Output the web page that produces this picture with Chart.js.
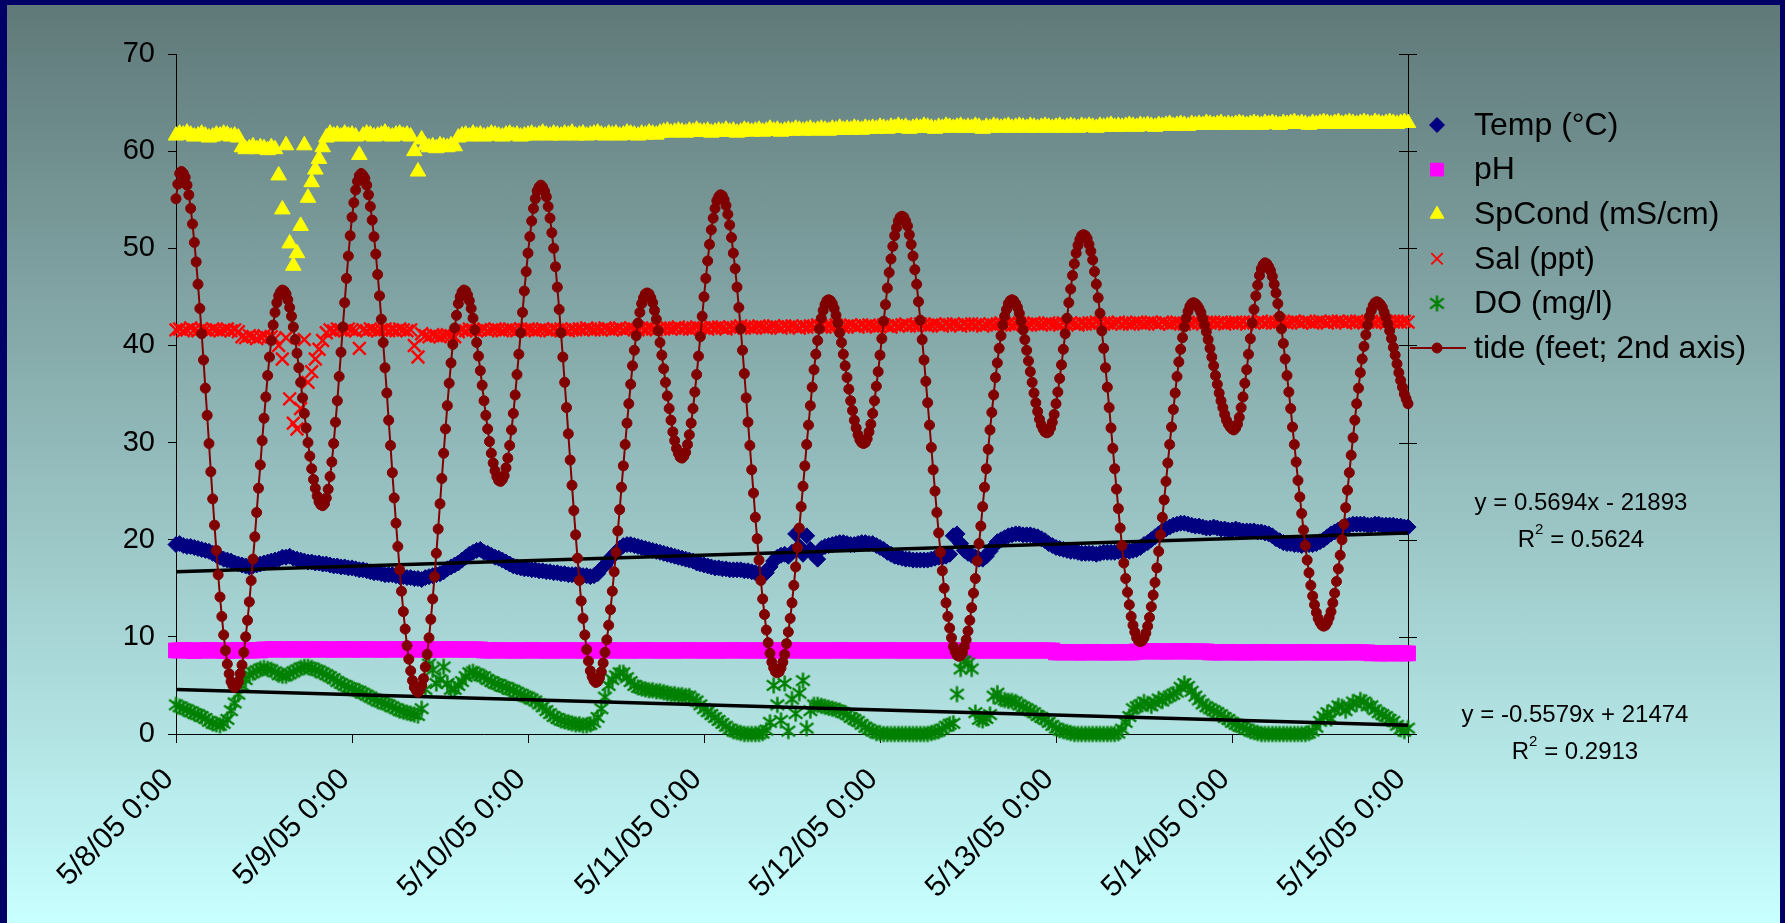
<!DOCTYPE html>
<html>
<head>
<meta charset="utf-8">
<title>Sonde readings 5/8/05 - 5/15/05</title>
<script src="https://cdn.jsdelivr.net/npm/chart.js@4.4.1/dist/chart.umd.min.js"></script>
<style>
    html, body { margin: 0; padding: 0; }
    #frame { position: relative; width: 1785px; height: 923px; overflow: hidden;
             background: linear-gradient(to bottom, #5f7878 0%, #c8ffff 100%); }
    #frame canvas { position: absolute; left: 0; top: 0; }
    .edge { position: absolute; background: #000066; }
</style>
</head>
<body>
<div id="frame">
    <canvas id="sondeChart" width="1785" height="923"></canvas>
    <div class="edge" style="left:0;top:0;width:7px;height:923px"></div>
    <div class="edge" style="left:0;top:0;width:1785px;height:5px"></div>
    <div class="edge" style="right:0;top:0;width:5px;height:923px"></div>
</div>
<script>
/* ========================================================================
   Water quality sonde + tide, one week at the station
   ======================================================================== */

// first timestamp as a spreadsheet serial day (5/8/05 0:00)
const START_DAY = 38480;

const dayLabels = ['5/8/05 0:00', '5/9/05 0:00', '5/10/05 0:00', '5/11/05 0:00',
    '5/12/05 0:00', '5/13/05 0:00', '5/14/05 0:00', '5/15/05 0:00'];

// sonde readings every 30 minutes, one row per day
const temp = [
    19.5, 19.6, 19.4, 19.3, 19.3, 19.2, 19.1, 19.0, 18.9, 18.8, 18.6, 18.4, 18.2, 18.0, 17.9, 17.8, 17.6, 17.5, 17.4, 17.3, 17.2, 17.3, 17.4, 17.5, 17.6, 17.7, 17.8, 17.9, 18.0, 18.2, 18.2, 18.3, 18.1, 18.0, 17.9, 17.8, 17.7, 17.7, 17.6, 17.6, 17.5, 17.5, 17.4, 17.3, 17.3, 17.2, 17.2, 17.1,
    17.1, 17.0, 16.9, 16.9, 16.8, 16.7, 16.6, 16.6, 16.5, 16.4, 16.4, 16.4, 16.3, 16.2, 16.2, 16.1, 16.1, 16.0, 16.0, 15.9, 16.1, 16.2, 16.3, 16.4, 16.5, 16.7, 17.0, 17.2, 17.4, 17.6, 17.9, 18.2, 18.5, 18.7, 18.9, 19.0, 18.7, 18.6, 18.4, 18.2, 18.1, 17.9, 17.7, 17.5, 17.3, 17.2, 17.1, 17.0,
    17.0, 16.9, 16.9, 16.8, 16.8, 16.7, 16.7, 16.6, 16.6, 16.5, 16.5, 16.4, 16.4, 16.4, 16.4, 16.3, 16.3, 16.2, 16.3, 16.5, 17.0, 17.4, 17.9, 18.3, 18.7, 19.1, 19.4, 19.5, 19.5, 19.4, 19.3, 19.2, 19.1, 19.0, 18.9, 18.8, 18.7, 18.6, 18.5, 18.4, 18.3, 18.2, 18.1, 18.0, 17.9, 17.8, 17.6, 17.5,
    17.4, 17.3, 17.2, 17.1, 17.1, 17.0, 17.0, 16.9, 16.9, 16.9, 16.9, 16.8, 16.8, 16.7, 16.6, 16.5, 16.4, 16.6, 17.2, 17.8, 18.2, 18.4, 18.5, 18.3, 18.7, 20.6, 19.3, 18.5, 20.4, 19.0, 18.4, 18.0, 19.1, 19.3, 19.4, 19.5, 19.6, 19.7, 19.7, 19.6, 19.5, 19.5, 19.6, 19.7, 19.7, 19.6, 19.6, 19.4,
    19.2, 19.0, 18.7, 18.5, 18.3, 18.2, 18.1, 18.0, 18.0, 17.9, 17.9, 17.9, 17.9, 17.9, 18.0, 18.1, 18.2, 18.2, 18.3, 18.5, 20.4, 20.6, 19.6, 18.9, 18.6, 18.4, 18.2, 18.0, 18.0, 18.3, 18.8, 19.3, 19.8, 20.0, 20.2, 20.4, 20.5, 20.6, 20.6, 20.5, 20.5, 20.5, 20.4, 20.3, 20.1, 19.9, 19.6, 19.4,
    19.2, 19.1, 19.0, 18.9, 18.8, 18.8, 18.7, 18.6, 18.6, 18.6, 18.6, 18.5, 18.6, 18.7, 18.7, 18.7, 18.7, 18.8, 18.8, 18.9, 18.8, 18.9, 19.0, 19.2, 19.5, 19.7, 20.0, 20.3, 20.6, 20.9, 21.1, 21.3, 21.5, 21.6, 21.7, 21.7, 21.6, 21.5, 21.4, 21.4, 21.3, 21.2, 21.2, 21.3, 21.2, 21.1, 21.1, 21.0,
    21.0, 21.1, 21.0, 20.9, 20.9, 20.9, 20.9, 20.8, 20.8, 20.7, 20.6, 20.4, 20.1, 19.9, 19.7, 19.6, 19.6, 19.5, 19.5, 19.4, 19.5, 19.5, 19.5, 19.6, 19.8, 20.0, 20.3, 20.6, 20.8, 21.0, 21.2, 21.4, 21.5, 21.6, 21.6, 21.6, 21.6, 21.5, 21.5, 21.6, 21.6, 21.5, 21.5, 21.5, 21.5, 21.4, 21.4, 21.3, 21.3
];

const ph = [
    8.6, 8.6, 8.65, 8.6, 8.6, 8.55, 8.6, 8.6, 8.6, 8.65, 8.6, 8.6, 8.6, 8.6, 8.55, 8.6, 8.6, 8.65, 8.6, 8.6, 8.6, 8.6, 8.65, 8.6,
    8.7, 8.7, 8.7, 8.75, 8.7, 8.7, 8.7, 8.7, 8.75, 8.7, 8.7, 8.7, 8.7, 8.7, 8.7, 8.75, 8.7, 8.7, 8.7, 8.7, 8.7, 8.7, 8.75, 8.7,
    8.7, 8.7, 8.7, 8.7, 8.75, 8.7, 8.7, 8.7, 8.7, 8.7, 8.7, 8.7, 8.75, 8.7, 8.7, 8.7, 8.7, 8.7, 8.75, 8.7, 8.7, 8.7, 8.7, 8.7, 8.7, 8.7, 8.7, 8.75, 8.7, 8.7, 8.7, 8.7, 8.7, 8.7, 8.7, 8.7,
    8.6, 8.6, 8.6, 8.6, 8.65, 8.6, 8.6, 8.6, 8.6, 8.6, 8.6, 8.6, 8.6, 8.65, 8.6, 8.6, 8.6, 8.6, 8.6, 8.6, 8.6, 8.6, 8.6, 8.65, 8.6, 8.6, 8.6, 8.6, 8.6, 8.6, 8.6, 8.6, 8.6, 8.6, 8.65, 8.6, 8.6, 8.6, 8.6,
    8.6, 8.6, 8.6, 8.6, 8.6, 8.65, 8.6, 8.6, 8.6, 8.6, 8.6, 8.6, 8.6, 8.6, 8.6, 8.6, 8.6, 8.65, 8.6, 8.6, 8.6, 8.6, 8.6, 8.6, 8.6, 8.6, 8.6, 8.6, 8.6, 8.65, 8.6, 8.6, 8.6, 8.6, 8.6, 8.6, 8.6, 8.6, 8.6,
    8.6, 8.6, 8.6, 8.6, 8.6, 8.6, 8.65, 8.6, 8.6, 8.6, 8.6, 8.6, 8.6, 8.6, 8.6, 8.6, 8.6, 8.6, 8.6, 8.65, 8.6, 8.6, 8.6, 8.6, 8.6, 8.6, 8.6, 8.6, 8.6, 8.6, 8.6, 8.6, 8.65, 8.6, 8.6, 8.6, 8.6, 8.6, 8.6,
    8.6, 8.6, 8.6, 8.6, 8.6, 8.6, 8.6, 8.6, 8.6, 8.6, 8.6, 8.6, 8.6, 8.6, 8.6, 8.6, 8.6, 8.6, 8.6, 8.6, 8.6, 8.6, 8.6, 8.6, 8.6, 8.6, 8.6, 8.6, 8.6, 8.6, 8.6, 8.6, 8.6, 8.6, 8.6, 8.6, 8.6, 8.6, 8.6,
    8.4, 8.4, 8.4, 8.45, 8.4, 8.4, 8.4, 8.4, 8.4, 8.4, 8.45, 8.4, 8.4, 8.4, 8.4, 8.4, 8.4, 8.4, 8.45, 8.4, 8.4, 8.4,
    8.5, 8.5, 8.5, 8.5, 8.55, 8.5, 8.5, 8.5, 8.5, 8.5, 8.5, 8.5, 8.55, 8.5, 8.5, 8.5, 8.5, 8.5, 8.5, 8.5,
    8.4, 8.4, 8.4, 8.4, 8.4, 8.45, 8.4, 8.4, 8.4, 8.4, 8.4, 8.4, 8.4, 8.4, 8.45, 8.4, 8.4, 8.4, 8.4, 8.4, 8.4, 8.4,
    8.4, 8.4, 8.4, 8.4, 8.45, 8.4, 8.4, 8.4, 8.4, 8.4, 8.4, 8.4, 8.4, 8.4, 8.4, 8.4, 8.4, 8.45, 8.4, 8.4, 8.4, 8.4,
    8.3, 8.35, 8.3, 8.3, 8.3, 8.3, 8.35, 8.3, 8.3, 8.3, 8.3
];

const spCond = [
    61.6, 61.8, 61.7, 61.9, 61.7, 61.5, 61.6, 61.8, 61.6, 61.4, 61.5, 61.7, 61.6, 61.8, 61.7, 61.5, 61.6, 61.4, 60.4, 60.2, 60.3, 60.5, 60.2, 60.4, 60.3, 60.1, 60.4, 60.2, 57.5, 54.0, 60.6, 50.5, 48.2, 49.5, 52.3, 60.6, 55.2, 56.8, 58.1, 59.2, 60.4, 61.4, 61.8, 61.6, 61.7, 61.5, 61.8, 61.6,
    61.7, 61.5, 59.6, 61.6, 61.8, 61.7, 61.5, 61.6, 61.7, 61.9, 61.6, 61.5, 61.7, 61.8, 61.6, 61.7, 61.5, 60.0, 57.9, 61.2, 60.6, 60.4, 60.5, 60.3, 60.6, 60.5, 60.4, 60.6, 60.5, 61.4, 61.6, 61.7, 61.5, 61.8, 61.6, 61.7, 61.5, 61.6, 61.8, 61.7, 61.6, 61.5, 61.7, 61.8, 61.6, 61.7, 61.5, 61.6,
    61.7, 61.8, 61.6, 61.7, 61.9, 61.7, 61.6, 61.8, 61.7, 61.6, 61.8, 61.7, 61.9, 61.6, 61.7, 61.8, 61.6, 61.7, 61.8, 61.9, 61.7, 61.6, 61.8, 61.7, 61.8, 61.6, 61.7, 61.9, 61.8, 61.7, 61.6, 61.8, 61.7, 61.9, 61.8, 61.7, 61.9, 62.0, 62.1, 61.9, 62.0, 62.1, 62.0, 61.9, 62.1, 62.0, 62.2, 62.0,
    62.0, 62.1, 61.9, 62.0, 62.1, 62.0, 62.2, 62.0, 62.1, 61.9, 62.0, 62.2, 62.1, 62.0, 62.1, 62.2, 62.0, 62.1, 62.3, 62.1, 62.2, 62.0, 62.1, 62.2, 62.1, 62.3, 62.2, 62.1, 62.2, 62.3, 62.1, 62.2, 62.3, 62.2, 62.1, 62.3, 62.2, 62.4, 62.2, 62.3, 62.2, 62.4, 62.3, 62.2, 62.4, 62.3, 62.4, 62.3,
    62.5, 62.4, 62.3, 62.5, 62.4, 62.6, 62.4, 62.5, 62.3, 62.4, 62.5, 62.4, 62.6, 62.5, 62.4, 62.3, 62.5, 62.4, 62.6, 62.5, 62.4, 62.5, 62.6, 62.4, 62.5, 62.4, 62.6, 62.5, 62.3, 62.5, 62.4, 62.6, 62.5, 62.4, 62.5, 62.6, 62.4, 62.5, 62.6, 62.5, 62.4, 62.6, 62.5, 62.4, 62.5, 62.6, 62.5, 62.4,
    62.5, 62.6, 62.4, 62.5, 62.6, 62.5, 62.4, 62.6, 62.5, 62.6, 62.5, 62.4, 62.6, 62.5, 62.6, 62.7, 62.5, 62.6, 62.5, 62.6, 62.7, 62.6, 62.5, 62.7, 62.6, 62.7, 62.6, 62.5, 62.7, 62.6, 62.7, 62.8, 62.6, 62.7, 62.8, 62.7, 62.6, 62.8, 62.7, 62.8, 62.7, 62.9, 62.8, 62.7, 62.8, 62.9, 62.7, 62.8,
    62.7, 62.8, 62.9, 62.8, 62.7, 62.8, 62.9, 62.8, 62.7, 62.9, 62.8, 62.9, 62.8, 62.7, 62.9, 62.8, 62.9, 63.0, 62.8, 62.9, 62.8, 62.7, 62.9, 62.8, 62.9, 63.0, 62.9, 62.8, 62.9, 63.0, 62.8, 62.9, 63.0, 62.9, 62.8, 62.9, 63.0, 62.9, 62.8, 63.0, 62.9, 62.8, 62.9, 63.0, 62.9, 62.8, 62.9, 63.0, 62.9
];

const sal = [
    41.6, 41.7, 41.5, 41.6, 41.8, 41.6, 41.5, 41.7, 41.6, 41.5, 41.7, 41.6, 41.5, 41.6, 41.7, 41.5, 41.6, 41.4, 40.9, 40.8, 41.0, 40.9, 40.7, 40.9, 41.0, 40.8, 40.9, 40.7, 40.0, 38.6, 40.8, 34.5, 32.0, 31.4, 33.5, 40.6, 36.2, 37.3, 38.6, 39.6, 40.5, 41.3, 41.6, 41.5, 41.7, 41.6, 41.5, 41.7,
    41.6, 41.5, 39.7, 41.6, 41.5, 41.7, 41.6, 41.5, 41.6, 41.7, 41.5, 41.6, 41.5, 41.7, 41.6, 41.5, 41.6, 40.0, 38.8, 41.2, 41.0, 40.9, 41.1, 41.0, 40.9, 41.0, 41.1, 41.0, 40.9, 41.4, 41.6, 41.5, 41.7, 41.6, 41.5, 41.6, 41.7, 41.5, 41.6, 41.7, 41.6, 41.5, 41.6, 41.7, 41.6, 41.5, 41.7, 41.6,
    41.7, 41.6, 41.5, 41.6, 41.7, 41.6, 41.5, 41.7, 41.6, 41.7, 41.6, 41.5, 41.7, 41.6, 41.7, 41.6, 41.8, 41.7, 41.6, 41.7, 41.6, 41.8, 41.7, 41.6, 41.7, 41.8, 41.6, 41.7, 41.8, 41.7, 41.6, 41.8, 41.7, 41.8, 41.7, 41.6, 41.8, 41.7, 41.8, 41.7, 41.8, 41.9, 41.7, 41.8, 41.7, 41.8, 41.9, 41.8,
    41.8, 41.7, 41.9, 41.8, 41.9, 41.8, 41.7, 41.9, 41.8, 41.9, 42.0, 41.8, 41.9, 41.8, 41.9, 42.0, 41.9, 41.8, 41.9, 42.0, 41.9, 41.8, 42.0, 41.9, 42.0, 41.9, 41.8, 42.0, 41.9, 42.0, 41.9, 42.1, 42.0, 41.9, 42.0, 41.9, 42.1, 42.0, 41.9, 42.0, 42.1, 42.0, 41.9, 42.1, 42.0, 42.1, 42.0, 41.9,
    42.0, 42.1, 42.0, 41.9, 42.1, 42.0, 42.1, 42.2, 42.0, 42.1, 42.0, 42.2, 42.1, 42.0, 42.1, 42.2, 42.1, 42.0, 42.2, 42.1, 42.2, 42.1, 42.0, 42.2, 42.1, 42.2, 42.1, 42.2, 42.0, 42.1, 42.2, 42.1, 42.2, 42.3, 42.1, 42.2, 42.1, 42.2, 42.3, 42.2, 42.1, 42.2, 42.3, 42.2, 42.1, 42.2, 42.3, 42.2,
    42.2, 42.1, 42.3, 42.2, 42.3, 42.2, 42.1, 42.3, 42.2, 42.3, 42.2, 42.4, 42.3, 42.2, 42.3, 42.2, 42.3, 42.4, 42.2, 42.3, 42.2, 42.3, 42.4, 42.3, 42.2, 42.3, 42.4, 42.3, 42.2, 42.4, 42.3, 42.2, 42.3, 42.4, 42.3, 42.2, 42.4, 42.3, 42.4, 42.3, 42.2, 42.4, 42.3, 42.4, 42.3, 42.4, 42.2, 42.3,
    42.3, 42.4, 42.3, 42.4, 42.2, 42.4, 42.3, 42.4, 42.5, 42.3, 42.4, 42.3, 42.4, 42.5, 42.4, 42.3, 42.4, 42.5, 42.4, 42.3, 42.5, 42.4, 42.3, 42.4, 42.5, 42.4, 42.3, 42.5, 42.4, 42.5, 42.4, 42.3, 42.5, 42.4, 42.5, 42.4, 42.3, 42.4, 42.5, 42.4, 42.5, 42.4, 42.3, 42.5, 42.4, 42.5, 42.4, 42.5, 42.4
];

const dissolvedO2 = [
    3.0, 2.8, 2.6, 2.5, 2.3, 2.1, 2.0, 1.8, 1.6, 1.3, 1.1, 1.0, 0.9, 1.1, 1.5, 2.4, 3.2, 4.1, 5.0, 5.6, 6.1, 6.3, 6.5, 6.7, 6.8, 6.7, 6.6, 6.4, 6.1, 6.0, 6.0, 6.2, 6.4, 6.6, 6.8, 6.9, 6.9, 6.8, 6.6, 6.5, 6.3, 6.1, 5.9, 5.7, 5.4, 5.2, 5.0, 4.8,
    4.7, 4.5, 4.4, 4.2, 4.0, 3.8, 3.6, 3.4, 3.3, 3.1, 3.0, 2.8, 2.6, 2.4, 2.3, 2.2, 2.1, 2.0, 1.9, 2.6, 4.6, 7.2, 6.6, 5.2, 5.6, 6.9, 5.2, 4.6, 4.6, 5.0, 5.4, 5.9, 6.3, 6.4, 6.2, 6.0, 5.9, 5.6, 5.4, 5.2, 5.1, 4.9, 4.8, 4.6, 4.5, 4.3, 4.1, 3.9,
    3.8, 3.6, 3.4, 3.1, 2.8, 2.4, 2.1, 1.8, 1.6, 1.4, 1.3, 1.2, 1.1, 1.0, 1.0, 0.9, 0.9, 1.0, 1.2, 1.7, 2.6, 3.8, 5.0, 5.6, 6.0, 6.3, 6.3, 5.8, 5.4, 5.0, 4.8, 4.7, 4.6, 4.5, 4.5, 4.4, 4.4, 4.3, 4.2, 4.1, 4.1, 4.0, 4.0, 3.9, 3.9, 3.6, 3.4, 3.0,
    2.6, 2.3, 2.0, 1.7, 1.4, 1.1, 0.8, 0.5, 0.3, 0.2, 0.1, 0.0, 0.0, 0.0, 0.0, 0.0, 0.1, 0.4, 1.2, 5.0, 3.0, 1.4, 5.2, 0.3, 3.6, 2.1, 4.2, 5.5, 0.6, 2.4, 3.0, 3.0, 2.9, 2.8, 2.7, 2.6, 2.5, 2.4, 2.2, 2.0, 1.7, 1.5, 1.3, 1.0, 0.7, 0.5, 0.3, 0.1,
    0.1, 0.0, 0.0, 0.0, 0.0, 0.0, 0.0, 0.0, 0.0, 0.0, 0.0, 0.0, 0.0, 0.0, 0.1, 0.2, 0.3, 0.5, 0.8, 1.0, 1.1, 4.1, 6.7, 7.5, 7.3, 6.7, 2.2, 1.5, 1.4, 1.6, 2.0, 3.9, 4.2, 3.6, 3.5, 3.4, 3.4, 3.3, 3.0, 2.8, 2.6, 2.4, 2.2, 1.9, 1.7, 1.5, 1.2, 0.9,
    0.6, 0.4, 0.3, 0.2, 0.1, 0.0, 0.0, 0.0, 0.0, 0.0, 0.0, 0.0, 0.0, 0.0, 0.0, 0.0, 0.0, 0.1, 0.5, 1.2, 1.8, 2.6, 2.8, 3.0, 3.3, 3.1, 2.9, 3.2, 3.6, 3.4, 3.7, 3.9, 4.1, 4.3, 4.8, 5.2, 4.9, 4.4, 3.9, 3.5, 3.1, 2.8, 2.6, 2.4, 2.2, 2.0, 1.7, 1.5,
    1.2, 1.0, 0.8, 0.7, 0.5, 0.3, 0.2, 0.1, 0.0, 0.0, 0.0, 0.0, 0.0, 0.0, 0.0, 0.0, 0.0, 0.0, 0.0, 0.0, 0.0, 0.1, 0.3, 0.7, 1.3, 1.8, 2.2, 1.6, 2.5, 2.9, 2.8, 2.4, 2.8, 3.3, 3.1, 3.5, 3.3, 2.9, 2.9, 2.5, 2.2, 2.0, 1.8, 1.5, 1.3, 0.9, 0.5, 0.3, 0.6
];

// tide gauge, every 15 minutes, feet
const tide = [
    5.51, 5.66, 5.77, 5.79,
    5.77, 5.73, 5.65, 5.55, 5.41, 5.25, 5.06, 4.86, 4.63, 4.38, 4.12, 3.85, 3.56, 3.28, 2.99, 2.70, 2.42, 2.15, 1.89, 1.64, 1.41, 1.21, 1.02, 0.86, 0.72, 0.62, 0.54, 0.50, 0.48,
    0.50, 0.54, 0.62, 0.71, 0.84, 1.00, 1.17, 1.36, 1.58, 1.80, 2.03, 2.28, 2.53, 2.77, 3.02, 3.25, 3.47, 3.69, 3.88, 4.05, 4.21, 4.34, 4.44, 4.51, 4.55, 4.57,
    4.56, 4.53, 4.47, 4.39, 4.30, 4.19, 4.06, 3.92, 3.77, 3.62, 3.46, 3.30, 3.15, 3.00, 2.86, 2.73, 2.62, 2.53, 2.45, 2.39, 2.36, 2.35,
    2.37, 2.43, 2.52, 2.65, 2.80, 2.99, 3.21, 3.43, 3.68, 3.93, 4.19, 4.44, 4.69, 4.92, 5.13, 5.32, 5.47, 5.60, 5.69, 5.75, 5.77,
    5.75, 5.72, 5.65, 5.55, 5.43, 5.29, 5.12, 4.94, 4.73, 4.51, 4.27, 4.03, 3.77, 3.51, 3.23, 2.97, 2.69, 2.43, 2.17, 1.93, 1.69, 1.47, 1.26, 1.08, 0.91, 0.77, 0.65, 0.55, 0.48, 0.45, 0.43,
    0.45, 0.50, 0.57, 0.69, 0.82, 0.99, 1.18, 1.39, 1.62, 1.86, 2.11, 2.37, 2.63, 2.89, 3.14, 3.38, 3.61, 3.82, 4.01, 4.18, 4.31, 4.43, 4.50, 4.55, 4.57,
    4.56, 4.52, 4.46, 4.38, 4.28, 4.16, 4.03, 3.89, 3.74, 3.59, 3.43, 3.28, 3.14, 3.01, 2.89, 2.79, 2.71, 2.65, 2.61, 2.60,
    2.62, 2.66, 2.74, 2.84, 2.97, 3.13, 3.30, 3.49, 3.70, 3.91, 4.13, 4.34, 4.56, 4.76, 4.95, 5.12, 5.28, 5.41, 5.51, 5.59, 5.63, 5.65,
    5.63, 5.59, 5.53, 5.43, 5.31, 5.16, 5.00, 4.81, 4.60, 4.37, 4.13, 3.88, 3.62, 3.36, 3.09, 2.82, 2.56, 2.30, 2.05, 1.81, 1.58, 1.37, 1.19, 1.02, 0.87, 0.75, 0.65, 0.59, 0.55, 0.53,
    0.54, 0.58, 0.64, 0.73, 0.84, 0.97, 1.12, 1.28, 1.47, 1.67, 1.87, 2.09, 2.31, 2.54, 2.76, 2.98, 3.20, 3.40, 3.60, 3.79, 3.95, 4.10, 4.23, 4.34, 4.43, 4.49, 4.53, 4.54,
    4.53, 4.49, 4.44, 4.36, 4.27, 4.15, 4.03, 3.90, 3.76, 3.62, 3.48, 3.35, 3.23, 3.11, 3.02, 2.94, 2.89, 2.85, 2.84,
    2.86, 2.90, 2.98, 3.08, 3.20, 3.35, 3.52, 3.70, 3.89, 4.09, 4.30, 4.50, 4.69, 4.87, 5.04, 5.19, 5.31, 5.41, 5.49, 5.53, 5.55,
    5.54, 5.50, 5.44, 5.35, 5.24, 5.11, 4.95, 4.79, 4.60, 4.39, 4.17, 3.95, 3.71, 3.46, 3.21, 2.97, 2.72, 2.48, 2.23, 2.01, 1.79, 1.58, 1.39, 1.23, 1.07, 0.94, 0.83, 0.74, 0.68, 0.64, 0.63,
    0.64, 0.68, 0.74, 0.82, 0.93, 1.05, 1.19, 1.35, 1.53, 1.72, 1.92, 2.12, 2.34, 2.55, 2.76, 2.98, 3.18, 3.38, 3.57, 3.75, 3.91, 4.05, 4.17, 4.28, 4.36, 4.42, 4.46, 4.47,
    4.46, 4.43, 4.38, 4.31, 4.23, 4.13, 4.03, 3.91, 3.79, 3.67, 3.55, 3.43, 3.33, 3.23, 3.15, 3.08, 3.03, 3.00, 2.99,
    3.00, 3.04, 3.11, 3.19, 3.30, 3.43, 3.58, 3.73, 3.90, 4.07, 4.25, 4.42, 4.59, 4.75, 4.89, 5.02, 5.13, 5.21, 5.28, 5.32, 5.33,
    5.32, 5.28, 5.23, 5.14, 5.04, 4.92, 4.78, 4.63, 4.45, 4.26, 4.06, 3.85, 3.63, 3.41, 3.18, 2.95, 2.72, 2.50, 2.28, 2.07, 1.87, 1.68, 1.50, 1.35, 1.21, 1.09, 0.99, 0.90, 0.85, 0.81, 0.80,
    0.81, 0.84, 0.90, 0.97, 1.06, 1.17, 1.30, 1.45, 1.60, 1.78, 1.96, 2.14, 2.34, 2.54, 2.73, 2.93, 3.13, 3.31, 3.49, 3.67, 3.82, 3.97, 4.10, 4.21, 4.30, 4.37, 4.43, 4.46, 4.47,
    4.46, 4.43, 4.39, 4.33, 4.25, 4.16, 4.06, 3.95, 3.84, 3.73, 3.62, 3.51, 3.41, 3.32, 3.24, 3.18, 3.14, 3.11, 3.10,
    3.11, 3.15, 3.21, 3.29, 3.40, 3.52, 3.66, 3.80, 3.96, 4.12, 4.28, 4.44, 4.58, 4.72, 4.84, 4.95, 5.03, 5.09, 5.13, 5.14,
    5.13, 5.10, 5.04, 4.97, 4.88, 4.76, 4.63, 4.49, 4.33, 4.15, 3.97, 3.77, 3.57, 3.36, 3.15, 2.94, 2.73, 2.52, 2.32, 2.12, 1.94, 1.76, 1.60, 1.46, 1.33, 1.21, 1.12, 1.05, 0.99, 0.96, 0.95,
    0.96, 0.99, 1.04, 1.11, 1.20, 1.31, 1.43, 1.56, 1.71, 1.88, 2.05, 2.23, 2.41, 2.60, 2.79, 2.98, 3.16, 3.34, 3.51, 3.68, 3.83, 3.96, 4.08, 4.19, 4.28, 4.35, 4.40, 4.43, 4.44,
    4.43, 4.41, 4.38, 4.34, 4.28, 4.21, 4.14, 4.06, 3.97, 3.88, 3.79, 3.69, 3.60, 3.51, 3.43, 3.36, 3.29, 3.23, 3.19, 3.16, 3.14, 3.13,
    3.15, 3.19, 3.26, 3.36, 3.47, 3.61, 3.75, 3.91, 4.07, 4.23, 4.37, 4.51, 4.62, 4.72, 4.79, 4.83, 4.85,
    4.84, 4.81, 4.77, 4.71, 4.63, 4.54, 4.43, 4.30, 4.17, 4.02, 3.86, 3.69, 3.52, 3.35, 3.16, 2.98, 2.80, 2.61, 2.44, 2.27, 2.10, 1.94, 1.79, 1.66, 1.53, 1.42, 1.33, 1.25, 1.19, 1.15, 1.12, 1.11,
    1.12, 1.15, 1.20, 1.26, 1.35, 1.45, 1.57, 1.70, 1.84, 2.00, 2.16, 2.33, 2.51, 2.69, 2.87, 3.05, 3.23, 3.40, 3.56, 3.72, 3.86, 3.99, 4.11, 4.21, 4.30, 4.36, 4.41, 4.44, 4.45,
    4.44, 4.42, 4.39, 4.34, 4.29, 4.22, 4.15, 4.07, 3.98, 3.90, 3.81, 3.72, 3.64, 3.57, 3.50, 3.45, 3.40
];

// trendline captions as exported with the workbook
const trendEquations = ['y = 0.5694x - 21893', 'y = -0.5579x + 21474'];
const trendR2 = ['0.5624', '0.2913'];

const FONT = '"Liberation Sans", Arial, Helvetica, sans-serif';

document.addEventListener('DOMContentLoaded', () => {
    renderSondeChart();
});

function toPoints(values, perDay) {
    return values.map((v, i) => ({ x: START_DAY + i / perDay, y: v }));
}

// least squares line through the series, returned as its two end points
function trendPoints(points) {
    const n = points.length;
    const mx = points.reduce((s, p) => s + p.x, 0) / n;
    const my = points.reduce((s, p) => s + p.y, 0) / n;
    let sxy = 0, sxx = 0;
    points.forEach(p => { sxy += (p.x - mx) * (p.y - my); sxx += (p.x - mx) * (p.x - mx); });
    const slope = sxy / sxx;
    const at = x => my + slope * (x - mx);
    const x0 = points[0].x, x1 = points[n - 1].x;
    return [{ x: x0, y: at(x0) }, { x: x1, y: at(x1) }];
}

// spreadsheet style "*" marker: vertical stroke plus an X
function asteriskMarker(color) {
    const c = document.createElement('canvas');
    c.width = c.height = 19;
    const g = c.getContext('2d');
    const m = 9.5, r = 8, d = r * 0.85;
    g.strokeStyle = color;
    g.lineWidth = 2.4;
    g.beginPath();
    g.moveTo(m, m - r); g.lineTo(m, m + r);
    g.moveTo(m - d, m - d * 0.75); g.lineTo(m + d, m + d * 0.75);
    g.moveTo(m + d, m - d * 0.75); g.lineTo(m - d, m + d * 0.75);
    g.stroke();
    return c;
}

function renderSondeChart() {
    const ctx = document.getElementById('sondeChart');
    if (!ctx) return;

    Chart.defaults.font.family = FONT;
    const doMarker = asteriskMarker('#008000');

    const tempPts = toPoints(temp, 48);
    const doPts = toPoints(dissolvedO2, 48);

    const marks = (label, pts, style, radius, color, order, extra) => Object.assign({
        label, data: pts, pointStyle: style, pointRadius: radius, pointHoverRadius: radius,
        backgroundColor: color, borderColor: color, pointBorderWidth: 1, showLine: false,
        clip: false, order, yAxisID: 'y'
    }, extra || {});

    const datasets = [
        marks('Temp (°C)', tempPts, 'rectRot', 8, '#000080', 6),
        marks('pH', toPoints(ph, 48), 'rect', 10.5, '#ff00ff', 5),
        marks('SpCond (mS/cm)', toPoints(spCond, 48), 'triangle', 9, '#ffff00', 4),
        marks('Sal (ppt)', toPoints(sal, 48), 'crossRot', 9, '#ff0000', 3, { pointBorderWidth: 2.4 }),
        marks('DO (mg/l)', doPts, doMarker, 8, '#008000', 2),
        { label: 'tempTrend', data: trendPoints(tempPts), showLine: true, pointRadius: 0, borderColor: '#000', borderWidth: 3.5, order: 1, yAxisID: 'y' },
        { label: 'doTrend', data: trendPoints(doPts), showLine: true, pointRadius: 0, borderColor: '#000', borderWidth: 3.5, order: 1, yAxisID: 'y' },
        {
            label: 'tide (feet; 2nd axis)', data: toPoints(tide, 96), showLine: true, tension: 0,
            borderColor: '#800000', borderWidth: 2, pointStyle: 'circle', pointRadius: 5, pointHoverRadius: 5,
            pointBackgroundColor: '#800000', pointBorderColor: '#800000', pointBorderWidth: 1,
            clip: false, order: 0, yAxisID: 'y2'
        }
    ];

    const chartExtras = {
        id: 'chartExtras',
        afterDraw(chart) {
            const c = chart.ctx;
            const y2 = chart.scales.y2;
            const ax = chart.chartArea.right;
            c.save();

            // secondary axis tick marks cross the axis line
            c.strokeStyle = '#000';
            c.lineWidth = 1;
            for (let v = 0; v <= 7; v++) {
                const py = Math.round(y2.getPixelForValue(v)) + 0.5;
                c.beginPath(); c.moveTo(ax - 9, py); c.lineTo(ax + 9, py); c.stroke();
            }

            // legend
            const order = [0, 1, 2, 3, 4, 7];
            const legendSize = [7.5, 9, 8, 8, 8, 5];
            c.font = `32px ${FONT}`;
            c.textBaseline = 'middle';
            c.textAlign = 'left';
            order.forEach((di, row) => {
                const ds = chart.data.datasets[di];
                const y = 125 + row * 44.6;
                const mx = 1437;
                if (di === 7) {
                    c.strokeStyle = ds.borderColor; c.lineWidth = 2;
                    c.beginPath(); c.moveTo(1410, y); c.lineTo(1466, y); c.stroke();
                }
                c.fillStyle = ds.pointBackgroundColor || ds.backgroundColor;
                c.strokeStyle = ds.pointBorderColor || ds.borderColor;
                c.lineWidth = Math.min(ds.pointBorderWidth, 1.8);
                Chart.helpers.drawPoint(c, { pointStyle: ds.pointStyle, radius: legendSize[row], rotation: 0, borderWidth: c.lineWidth }, mx, y);
                c.fillStyle = '#000';
                c.fillText(ds.label, 1474, y + 1);
            });

            // trendline captions
            const captionY = [503, 715];
            const captionX = [1581, 1575];
            trendEquations.forEach((eq, i) => {
                c.fillStyle = '#000';
                c.textAlign = 'center';
                c.font = `24px ${FONT}`;
                c.fillText(eq, captionX[i], captionY[i]);
                const rest = ' = ' + trendR2[i];
                const wR = c.measureText('R').width, wRest = c.measureText(rest).width;
                c.font = `15px ${FONT}`;
                const w2 = c.measureText('2').width;
                const left = captionX[i] - (wR + w2 + wRest) / 2;
                const y = captionY[i] + 37;
                c.textAlign = 'left';
                c.fillText('2', left + wR, y - 10);
                c.font = `24px ${FONT}`;
                c.fillText('R', left, y);
                c.fillText(rest, left + wR + w2, y);
            });
            c.restore();
        }
    };

    new Chart(ctx, {
        type: 'scatter',
        data: { datasets },
        options: {
            responsive: false,
            animation: false,
            events: [],
            layout: { padding: { left: 0, right: 0, top: 54, bottom: 0 } },
            plugins: { legend: { display: false }, tooltip: { enabled: false } },
            scales: {
                x: {
                    type: 'linear', position: 'bottom', min: START_DAY, max: START_DAY + 7,
                    afterFit: s => { s.height = 189; },
                    ticks: {
                        stepSize: 1, autoSkip: false, minRotation: 45, maxRotation: 45, padding: 19,
                        labelOffset: -7,
                        color: '#000', font: { size: 30 },
                        callback: v => dayLabels[Math.round(v - START_DAY)]
                    },
                    grid: { drawOnChartArea: false, tickLength: 9, color: '#000' },
                    border: { color: '#000', width: 1 }
                },
                y: {
                    position: 'left', min: 0, max: 70,
                    afterFit: s => { s.width = 176; },
                    ticks: { stepSize: 10, padding: 13, color: '#000', font: { size: 29 } },
                    grid: { drawOnChartArea: false, tickLength: 8, color: '#000' },
                    border: { color: '#000', width: 1 }
                },
                y2: {
                    position: 'right', min: 0, max: 7,
                    afterFit: s => { s.width = 377; },
                    ticks: { display: false, stepSize: 1 },
                    grid: { drawOnChartArea: false, drawTicks: false, color: '#000' },
                    border: { color: '#000', width: 1 }
                }
            }
        },
        plugins: [chartExtras]
    });
}
</script>
</body>
</html>
